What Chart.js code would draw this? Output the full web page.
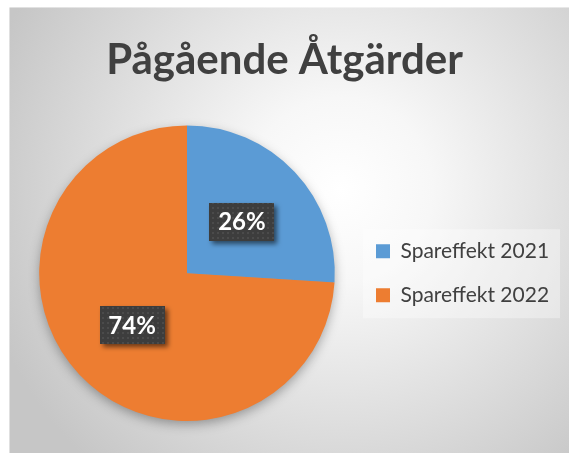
<!DOCTYPE html>
<html>
<head>
<meta charset="utf-8">
<title>Pågående Åtgärder</title>
<script src="https://cdn.jsdelivr.net/npm/chart.js@4.4.0/dist/chart.umd.min.js"></script>
<style>
    html, body { margin: 0; padding: 0; background: #ffffff; }
    #wrap { width: 569px; height: 453px; }
</style>
</head>
<body>
<div id="wrap"><canvas id="pieChart"></canvas></div>
<script>
// Data
const chartTitle = 'Pågående Åtgärder';
const categories = ['Spareffekt 2021', 'Spareffekt 2022'];
const shares = [26, 74];
const sliceColors = ['#5B9BD5', '#ED7D31'];

const FONT = 'Lato, "Open Sans", sans-serif';
const TEXT_GREY = '#404040';

// Small dotted texture used behind the data labels
function makeDotPattern(ctx) {
    const tile = document.createElement('canvas');
    tile.width = 5;
    tile.height = 5;
    const t = tile.getContext('2d');
    t.fillStyle = '#3d3d3d';
    t.fillRect(0, 0, 5, 5);
    t.fillStyle = '#4b4b4b';
    t.fillRect(2, 2, 2, 2);
    return ctx.createPattern(tile, 'repeat');
}

/**
 * Keep the legend column at a fixed width so the pie sits where it should,
 * then let it draw a bit wider than the slot it took in the layout
 */
const legendWidthPlugin = {
    id: 'legendWidth',
    afterInit(chart) {
        const legend = chart.legend;
        const originalFit = legend.fit;
        legend.fit = function () {
            originalFit.call(this);
            this.width = 195;
        };
    },
    afterLayout(chart) {
        const legend = chart.legend;
        legend.width = chart.width - legend.left;
        legend.right = chart.width;
    }
};

/**
 * Background, pie shadow and boxed percentage labels
 */
const decorPlugin = {
    id: 'decor',
    beforeDraw(chart) {
        const { ctx, width, height } = chart;
        ctx.save();
        ctx.fillStyle = '#ffffff';
        ctx.fillRect(0, 0, width, height);

        const grad = ctx.createRadialGradient(340, 190, 0, 340, 190, 370);
        grad.addColorStop(0, '#ffffff');
        grad.addColorStop(0.25, '#f7f7f7');
        grad.addColorStop(1, '#c6c6c6');
        ctx.fillStyle = grad;
        ctx.fillRect(9, 7, width - 9, height - 7);

        ctx.fillStyle = 'rgba(255, 255, 255, 0.45)';
        ctx.fillRect(9, 7, width - 9, 1);
        ctx.fillRect(9, 7, 1, height - 7);

        // faint panel behind the legend
        const legend = chart.legend;
        const cy = (legend.top + legend.bottom) / 2;
        ctx.fillStyle = 'rgba(255, 255, 255, 0.35)';
        ctx.fillRect(legend.left + 10, cy - 44, 197, 89);
        ctx.restore();
    },
    beforeDatasetsDraw(chart) {
        const { ctx } = chart;
        const arc = chart.getDatasetMeta(0).data[0];
        if (!arc) return;
        const { x, y, outerRadius } = arc.getProps(['x', 'y', 'outerRadius'], true);
        ctx.save();
        ctx.shadowColor = 'rgba(0, 0, 0, 0.35)';
        ctx.shadowBlur = 12;
        ctx.shadowOffsetY = 4;
        ctx.beginPath();
        ctx.arc(x, y, outerRadius - 1, 0, Math.PI * 2);
        ctx.fillStyle = '#999999';
        ctx.fill();
        ctx.restore();
    },
    afterDatasetsDraw(chart) {
        const { ctx } = chart;
        const meta = chart.getDatasetMeta(0);
        const values = chart.data.datasets[0].data;
        const total = values.reduce((a, b) => a + b, 0);
        const pattern = makeDotPattern(ctx);

        meta.data.forEach((arc, i) => {
            const p = arc.getProps(['x', 'y', 'startAngle', 'endAngle', 'outerRadius'], true);
            const mid = (p.startAngle + p.endAngle) / 2;
            const r = p.outerRadius * 0.51;
            const lx = p.x + Math.cos(mid) * r;
            const ly = p.y + Math.sin(mid) * r;
            const text = Math.round(values[i] / total * 100) + '%';
            const w = 65, h = 38;

            ctx.save();
            ctx.shadowColor = 'rgba(0, 0, 0, 0.55)';
            ctx.shadowBlur = 5;
            ctx.shadowOffsetX = 3;
            ctx.shadowOffsetY = 3;
            ctx.fillStyle = pattern;
            ctx.fillRect(Math.round(lx - w / 2), Math.round(ly - h / 2), w, h);
            ctx.restore();

            ctx.save();
            ctx.fillStyle = '#ffffff';
            ctx.font = 'bold 24px ' + FONT;
            ctx.textAlign = 'center';
            ctx.textBaseline = 'middle';
            ctx.fillText(text, lx, ly + 1);
            ctx.restore();
        });
    }
};

const ctx = document.getElementById('pieChart').getContext('2d');

new Chart(ctx, {
    type: 'pie',
    data: {
        labels: categories,
        datasets: [{
            data: shares,
            backgroundColor: sliceColors,
            borderWidth: 0
        }]
    },
    options: {
        responsive: true,
        maintainAspectRatio: false,
        animation: false,
        layout: {
            padding: { left: 21, right: 21, top: 0, bottom: 32 }
        },
        plugins: {
            title: {
                display: true,
                text: chartTitle,
                color: TEXT_GREY,
                font: { family: FONT, size: 42, weight: 'bold' },
                padding: { top: 35, bottom: 40 }
            },
            legend: {
                position: 'right',
                fullSize: false,
                labels: {
                    color: TEXT_GREY,
                    font: { family: FONT, size: 21 },
                    boxWidth: 14,
                    boxHeight: 14,
                    padding: 23
                }
            },
            tooltip: { enabled: false }
        }
    },
    plugins: [legendWidthPlugin, decorPlugin]
});
</script>
</body>
</html>
